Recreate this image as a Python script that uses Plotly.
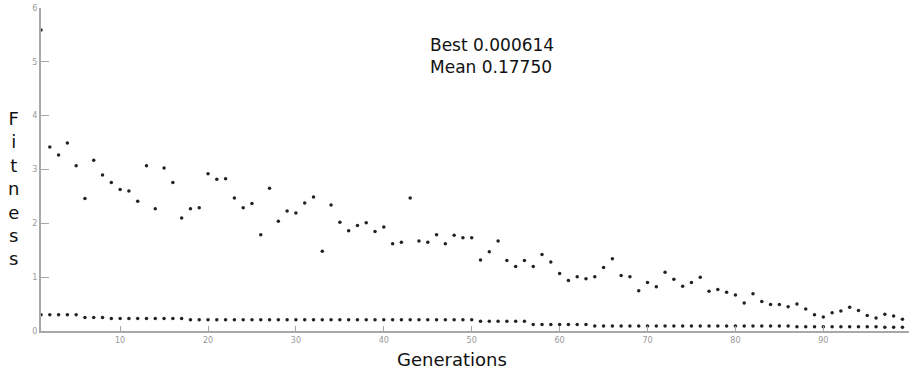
import plotly.graph_objects as go

generations = list(range(1, 101))

mean_fitness = [
    5.59, 3.42, 3.27, 3.49, 3.07, 2.46, 3.17, 2.90, 2.76, 2.63,
    2.60, 2.41, 3.07, 2.27, 3.03, 2.76, 2.10, 2.27, 2.29, 2.92,
    2.82, 2.83, 2.47, 2.29, 2.37, 1.79, 2.65, 2.04, 2.23, 2.19,
    2.38, 2.49, 1.48, 2.34, 2.02, 1.86, 1.96, 2.01, 1.85, 1.93,
    1.62, 1.65, 2.47, 1.67, 1.65, 1.79, 1.62, 1.78, 1.73, 1.73,
    1.32, 1.47, 1.67, 1.31, 1.20, 1.31, 1.20, 1.42, 1.28, 1.07,
    0.94, 1.01, 0.97, 1.01, 1.18, 1.34, 1.03, 1.01, 0.75, 0.90,
    0.82, 1.09, 0.96, 0.83, 0.90, 1.00, 0.74, 0.77, 0.72, 0.67,
    0.52, 0.69, 0.55, 0.49, 0.49, 0.45, 0.50, 0.41, 0.30, 0.26,
    0.34, 0.37, 0.44, 0.38, 0.29, 0.24, 0.31, 0.28, 0.22, 0.1775,
]

best_fitness = (
    [0.30] * 5 + [0.25] * 3 + [0.23] * 9 + [0.21] * 33 + [0.18] * 6
    + [0.12] * 7 + [0.095] * 23 + [0.08] * 10 + [0.07] * 4
)

y_ticks = [0, 1, 2, 3, 4, 5, 6]
x_ticks = [10, 20, 30, 40, 50, 60, 70, 80, 90, 100]

W, H = 909, 372
ML, MR, MT, MB = 41, 0, 8, 41
PW, PH = W - ML - MR, H - MT - MB


def px_x(px):
    return (px - ML) / PW


def px_y(py):
    return (H - MB - py) / PH


fig = go.Figure()
marker = dict(color="#222222", size=3.5)
fig.add_trace(go.Scatter(x=generations, y=mean_fitness, mode="markers",
                         marker=marker, name="Mean", showlegend=False))
fig.add_trace(go.Scatter(x=generations, y=best_fitness, mode="markers",
                         marker=marker, name="Best", showlegend=False))

axis_common = dict(
    showline=True, linecolor="#a8a8a8", linewidth=2,
    showgrid=False, zeroline=False, ticks="inside", tickcolor="#a8a8a8",
    tickfont=dict(family="DejaVu Sans", size=8, color="#999999"),
    mirror=False,
)

fig.update_xaxes(range=[1, 1 + PW / 8.79], tickvals=x_ticks, ticklen=5,
                 **axis_common)
fig.update_yaxes(range=[0, 6], tickvals=y_ticks, ticklen=8, **axis_common)

fig.add_annotation(text="Best 0.000614<br>Mean 0.17750", xref="paper", yref="paper",
                   x=px_x(428), y=px_y(56), xanchor="left", yanchor="middle",
                   align="left", showarrow=False,
                   font=dict(family="DejaVu Sans", size=17, color="#111111"))
fig.add_annotation(text="Generations", xref="paper", yref="paper",
                   x=px_x(452), y=px_y(359), xanchor="center", yanchor="middle",
                   showarrow=False,
                   font=dict(family="DejaVu Sans", size=18, color="#111111"))
fig.add_annotation(text="F<br>i<br>t<br>n<br>e<br>s<br>s", xref="paper", yref="paper",
                   x=px_x(13), y=px_y(188), xanchor="center", yanchor="middle",
                   align="center", showarrow=False,
                   font=dict(family="DejaVu Sans", size=18, color="#111111"))

fig.update_layout(
    width=W, height=H,
    margin=dict(l=ML, r=MR, t=MT, b=MB),
    paper_bgcolor="white", plot_bgcolor="white",
)

fig.write_html("out.html",
               config={"displayModeBar": False},
               post_script="document.body.style.margin='0';document.body.style.overflow='hidden';")
